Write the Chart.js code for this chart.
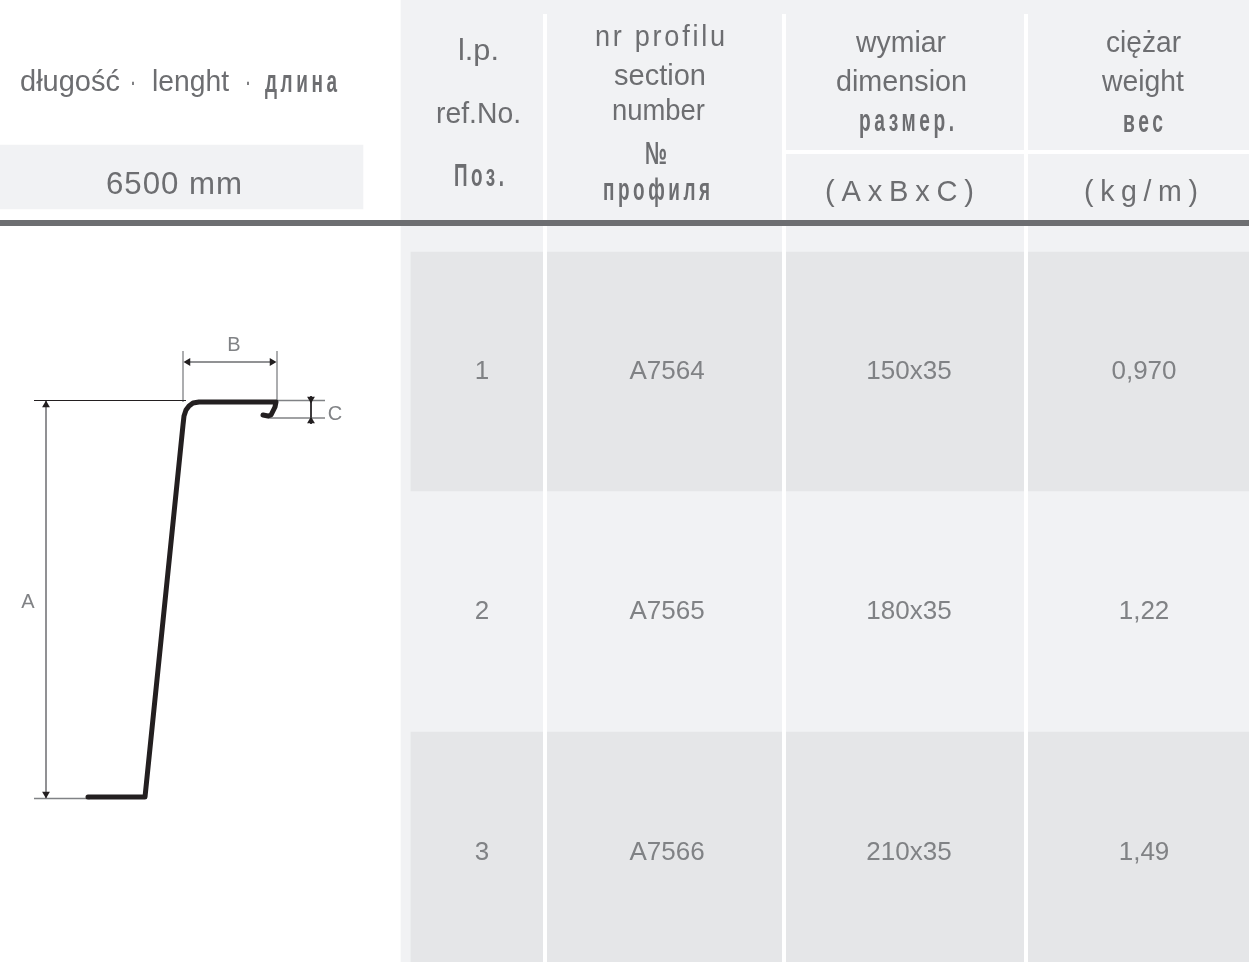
<!DOCTYPE html>
<html lang="pl">
<head>
<meta charset="utf-8">
<title>A7564 A7565 A7566</title>
<script src="https://cdn.jsdelivr.net/npm/chart.js@4/dist/chart.umd.min.js"></script>
<style>
  html, body { margin: 0; padding: 0; background: #fff; overflow: hidden; }
  canvas { display: block; }
</style>
</head>
<body>
<canvas id="sheet" width="1249" height="962"></canvas>
<script>
// Tabela
const refNumbers = ['1', '2', '3'];
const sections = ['A7564', 'A7565', 'A7566'];
const dimensions = ['150x35', '180x35', '210x35'];
const weights = ['0,970', '1,22', '1,49'];
const lengthValue = '6500 mm';

// Nagłówki
const headRef = ['l.p.', 'ref.No.', 'Поз.'];
const headSection = ['nr profilu', 'section', 'number', '№', 'профиля'];
const headDimension = ['wymiar', 'dimension', 'размер.', '(AxBxC)'];
const headWeight = ['ciężar', 'weight', 'вес', '(kg/m)'];
const headLength = ['długość', '·', 'lenght', '·', 'длина'];

// Profil (punkty)
const profileX = [88, 145, 183, 184, 186, 189, 193, 199, 276, 275, 273, 271, 268, 263];
const profileY = [797, 797, 425, 416, 410, 406, 403, 402, 402, 407, 411, 415, 416, 415];

// Wiersze i układ arkusza
const rowEdges = [252, 491, 732, 962];
const columnGaps = [545, 784, 1026];
const rowCenters = [370, 610, 851];

// Położenie nagłówków: [lewa, prawa, linia bazowa]
const boxLength = [[20, 120, 91], [130, 136, 91], [152, 229, 91], [245, 251, 91], [265, 337, 92]];
const boxRef = [[458, 499, 60], [436, 521, 123], [454, 504, 186]];
const boxSection = [[595, 725, 46], [614, 706, 85], [612, 705, 120], [645, 667, 164], [603, 710, 200]];
const boxDimension = [[856, 946, 52], [836, 967, 91], [859, 954, 131], [825, 974, 201]];
const boxWeight = [[1106, 1181, 52], [1102, 1184, 91], [1123, 1163, 132], [1084, 1198, 201]];

const INK = '#6d6e71';
const SOFT = '#808285';
const GUIDE = '#808285';
const BLACK = '#231f20';
const LAT = '"Liberation Sans", Arial, sans-serif';

const bar = (cx, width, y0, y1, color, order) => ({
  type: 'bar',
  data: [{ x: cx, y: [y0, y1] }],
  backgroundColor: color,
  barThickness: width,
  grouped: false,
  borderWidth: 0,
  order,
});

const line = (xs, ys, color, width, order, extra = {}) => ({
  type: 'line',
  data: xs.map((x, i) => ({ x, y: ys[i] })),
  borderColor: color,
  borderWidth: width,
  pointRadius: 0,
  tension: 0,
  fill: false,
  order,
  ...extra,
});

const arrow = (x, y, rotation) => ({
  type: 'scatter',
  data: [{ x, y }],
  pointStyle: 'triangle',
  pointRadius: 4.5,
  pointRotation: rotation,
  backgroundColor: BLACK,
  borderWidth: 0,
  order: 1,
});

const datasets = [
  bar(825, 848, 0, 962, '#f1f2f4', 20),
  bar(181.5, 363, 145, 209, '#f1f2f4', 20),
  bar(830, 838, rowEdges[0], rowEdges[1], '#e5e6e8', 19),
  bar(830, 838, rowEdges[2], rowEdges[3], '#e5e6e8', 19),
  ...columnGaps.map((x) => line([x, x], [14, 962], '#ffffff', 4, 18)),
  line([782, 1249], [152, 152], '#ffffff', 4, 18),
  line([0, 1249], [223, 223], INK, 6, 10),

  // Linie wymiarowe
  line([34, 186], [400.5, 400.5], BLACK, 1, 5),
  line([276, 325], [400.5, 400.5], GUIDE, 1.3, 5),
  line([268, 325], [418, 418], GUIDE, 1.3, 5),
  line([34, 90], [798.5, 798.5], GUIDE, 1.3, 5),
  line([183, 183], [351, 402], GUIDE, 1.3, 5),
  line([277, 277], [351, 402], GUIDE, 1.3, 5),
  line([185, 275], [362, 362], INK, 1.5, 5),
  line([311, 311], [396, 424], BLACK, 1, 5),
  line([46, 46], [401, 798], INK, 1.5, 5),
  arrow(188, 362, -90),
  arrow(272, 362, 90),
  arrow(46, 405, 0),
  arrow(46, 794, 180),
  arrow(311, 399, 180),
  arrow(311, 421, 0),

  line(profileX, profileY, BLACK, 5, 2, { borderCapStyle: 'round', borderJoinStyle: 'round' }),
];

const labelsPlugin = {
  id: 'sheetLabels',
  afterDatasetsDraw(chart) {
    const { ctx, scales: { x: sx, y: sy } } = chart;
    const put = (text, x, y, font, color) => {
      ctx.font = font;
      ctx.fillStyle = color;
      ctx.textAlign = 'center';
      ctx.fillText(text, sx.getPixelForValue(x), sy.getPixelForValue(y));
    };
    // tekst wpasowany w szerokość z oryginału
    const fit = (text, [x0, x1, base], font, spacing = 0) => {
      ctx.save();
      ctx.font = font;
      ctx.fillStyle = INK;
      ctx.textAlign = 'left';
      ctx.letterSpacing = `${spacing}px`;
      const w = ctx.measureText(text).width - spacing;
      ctx.translate(sx.getPixelForValue(x0), sy.getPixelForValue(base));
      ctx.scale((x1 - x0) / w, 1);
      ctx.fillText(text, 0, 0);
      ctx.restore();
    };
    const lat = (t, box, spacing = 0) => fit(t, box, `30px ${LAT}`, spacing);
    const ru = (t, box) => fit(t, box, `bold 32px ${LAT}`, 6);
    const unit = (t, box) => fit(t, box, `30px ${LAT}`, 7);

    ctx.save();
    ctx.textBaseline = 'alphabetic';

    headLength.forEach((t, i) => (i === 4 ? ru(t, boxLength[i]) : lat(t, boxLength[i])));
    fit(lengthValue, [106, 242, 194], `32px ${LAT}`, 1);

    headRef.forEach((t, i) => (i === 2 ? ru(t, boxRef[i]) : lat(t, boxRef[i])));
    headSection.forEach((t, i) => (i >= 3 ? ru(t, boxSection[i]) : lat(t, boxSection[i], i === 0 ? 3 : 0)));
    headDimension.forEach((t, i) => (i === 2 ? ru(t, boxDimension[i]) : i === 3 ? unit(t, boxDimension[i]) : lat(t, boxDimension[i])));
    headWeight.forEach((t, i) => (i === 2 ? ru(t, boxWeight[i]) : i === 3 ? unit(t, boxWeight[i]) : lat(t, boxWeight[i])));

    // wiersze
    const body = `26px ${LAT}`;
    rowCenters.forEach((cy, i) => {
      put(refNumbers[i], 482, cy + 9, body, SOFT);
      put(sections[i], 667, cy + 9, body, SOFT);
      put(dimensions[i], 909, cy + 9, body, SOFT);
      put(weights[i], 1144, cy + 9, body, SOFT);
    });

    // litery wymiarów
    const dimFont = `20px ${LAT}`;
    put('B', 234, 351, dimFont, SOFT);
    put('C', 335, 420, dimFont, SOFT);
    put('A', 28, 608, dimFont, SOFT);
    ctx.restore();
  },
};

new Chart(document.getElementById('sheet'), {
  data: { datasets },
  options: {
    responsive: false,
    animation: false,
    events: [],
    layout: { padding: 0, autoPadding: false },
    plugins: { legend: { display: false }, tooltip: { enabled: false } },
    scales: {
      x: { type: 'linear', offset: false, min: 0, max: 1249, display: false },
      y: { type: 'linear', offset: false, min: 0, max: 962, reverse: true, display: false },
    },
  },
  plugins: [labelsPlugin],
});
</script>
</body>
</html>
